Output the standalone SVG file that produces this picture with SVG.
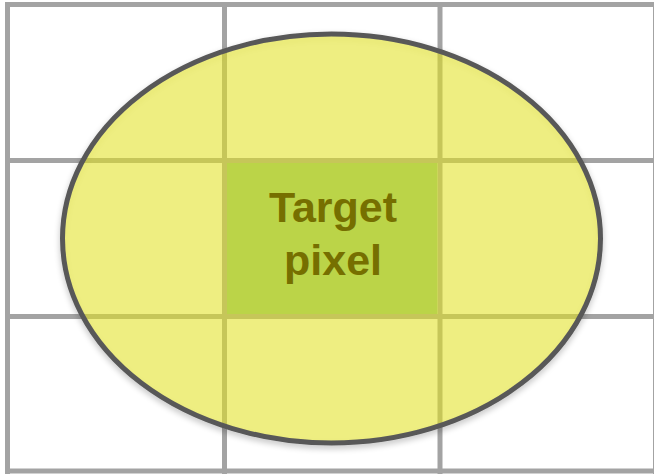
<svg xmlns="http://www.w3.org/2000/svg" width="654" height="474" viewBox="0 0 654 474">
  <defs>
    <filter id="shadow" x="-10%" y="-10%" width="120%" height="125%">
      <feGaussianBlur in="SourceAlpha" stdDeviation="3"/>
      <feOffset dx="0" dy="3" result="b"/>
      <feComponentTransfer><feFuncA type="linear" slope="0.25"/></feComponentTransfer>
      <feMerge><feMergeNode/><feMergeNode in="SourceGraphic"/></feMerge>
    </filter>
    <style>
      .grid { stroke: #a3a3a3; stroke-width: 5; fill: none; }
      .label { font-family: "Liberation Sans", Arial, sans-serif; font-weight: bold; font-size: 43px; fill: #766f00; text-anchor: middle; }
    </style>
  </defs>
  <rect x="0" y="0" width="654" height="474" fill="#ffffff"/>
  <g id="grid" class="grid">
    <line x1="7.5" y1="2" x2="7.5" y2="474"/>
    <line x1="224.5" y1="2" x2="224.5" y2="474"/>
    <line x1="440" y1="2" x2="440" y2="474"/>
    <line x1="655.5" y1="2" x2="655.5" y2="474"/>
    <line x1="5" y1="4.5" x2="654" y2="4.5"/>
    <line x1="5" y1="160.5" x2="654" y2="160.5"/>
    <line x1="5" y1="316.5" x2="654" y2="316.5"/>
    <line x1="5" y1="471" x2="654" y2="471"/>
  </g>
  <g id="kernel">
    <ellipse cx="331.5" cy="238.5" rx="269" ry="204.5" fill="#eeee22" fill-opacity="0.5" stroke="#595959" stroke-width="5" filter="url(#shadow)"/>
  </g>
  <g id="target-pixel">
    <rect x="227" y="163" width="210.5" height="151" fill="#bbd448"/>
    <text class="label" x="333" y="222">Target</text>
    <text class="label" x="333" y="275">pixel</text>
  </g>
</svg>
